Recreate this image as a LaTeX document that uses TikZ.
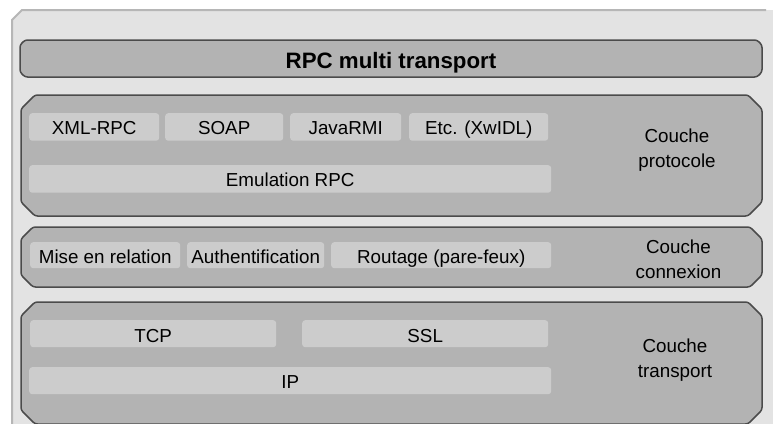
\documentclass[tikz,border=0pt]{standalone}
\usepackage{fontspec}
\setmainfont{Liberation Sans}
\definecolor{panelfill}{HTML}{E3E3E3}
\definecolor{paneledge}{HTML}{B6B6B6}
\definecolor{layerfill}{HTML}{B3B3B3}
\definecolor{layeredge}{HTML}{4B4B4B}
\definecolor{itemfill}{HTML}{CCCCCC}
\newcommand\mychbox[6]{%
  \path[#6] (#1,{#2+#5}) -- ({#1+#5},#2) -- ({#3-#5},#2) -- (#3,{#2+#5})
    -- (#3,{#4-#5}) -- ({#3-#5},#4) -- ({#1+#5},#4) -- (#1,{#4-#5}) -- cycle;}
\begin{document}
\begin{tikzpicture}[x=1pt,y=-1pt,
  layerbox/.style={fill=layerfill,draw=layeredge,line width=1.5pt,rounded corners=2.5pt},
  itembox/.style={fill=itemfill,draw=none,rounded corners=3pt,inner xsep=0pt,inner ysep=0pt,
    anchor=north west,text height=21.5pt,text depth=6pt,
    font=\fontsize{18.8}{25}\selectfont},
  layerlabel/.style={align=center,inner sep=0pt,font=\fontsize{18.8}{25}\selectfont},
  titlelabel/.style={inner sep=0pt,anchor=base,font=\fontsize{22.3}{26}\selectfont\bfseries}]
\useasboundingbox (0,0) rectangle (773,423);
% outer panel
\fill[white] (0,0) rectangle (773,423);
\path[fill=panelfill] (12,430) -- (12,20) -- (22,10) -- (780,10) -- (780,430) -- cycle;
\draw[paneledge,line width=2pt] (12,430) -- (12,20) -- (22,10) -- (766,10);
% title bar
\mychbox{20}{40}{762}{77}{5}{layerbox}
\node[titlelabel] (title) at (391,68) {RPC multi transport};
% protocol layer
\mychbox{21}{95}{762}{216}{14}{layerbox}
\node[itembox,minimum width=130pt] (xmlrpc) at (29,113) {XML-RPC};
\node[itembox,minimum width=118pt] (soap) at (165,113) {SOAP};
\node[itembox,minimum width=111pt] (javarmi) at (290,113) {JavaRMI};
\node[itembox,minimum width=139pt] (etc) at (409,113) {Etc. (XwIDL)};
\node[itembox,minimum width=522pt] (emul) at (29,165) {Emulation RPC};
\node[layerlabel] (lproto) at (677,149.7) {Couche\\protocole};
% connection layer
\mychbox{21}{227}{762}{287}{12}{layerbox}
\node[itembox,minimum width=150pt,text depth=5pt,text height=21pt] (mise) at (30,242) {Mise en relation};
\node[itembox,minimum width=137pt,text depth=5pt,text height=21pt] (auth) at (187,242) {Authentification};
\node[itembox,minimum width=220pt,text depth=5pt,text height=21pt] (rout) at (331,242) {Routage (pare-feux)};
\node[layerlabel] (lconn) at (678.5,258.8) {Couche\\connexion};
% transport layer
\mychbox{21}{302}{762}{424}{14}{layerbox}
\node[itembox,minimum width=246pt,text depth=5pt,text height=22pt] (tcp) at (30,320) {TCP};
\node[itembox,minimum width=246pt,text depth=5pt,text height=22pt] (ssl) at (302,320) {SSL};
\node[itembox,minimum width=522pt,text depth=6pt,text height=21pt] (ip) at (29,367) {IP};
\node[layerlabel] (ltrans) at (675,360.2) {Couche\\transport};
\end{tikzpicture}
\end{document}
